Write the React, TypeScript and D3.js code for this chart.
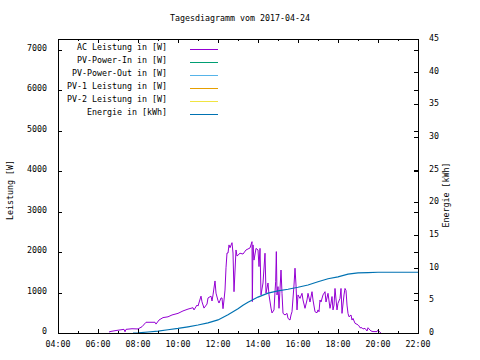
import React from 'react';
import * as d3 from 'd3';

const title = 'Tagesdiagramm vom 2017-04-24';

const xTicks = ['04:00', '06:00', '08:00', '10:00', '12:00', '14:00', '16:00', '18:00', '20:00', '22:00'];
const yTicks = [0, 1000, 2000, 3000, 4000, 5000, 6000, 7000];
const y2Ticks = [0, 5, 10, 15, 20, 25, 30, 35, 40, 45];

const legendNames = [
  'AC Leistung in [W]',
  'PV-Power-In in [W]',
  'PV-Power-Out in [W]',
  'PV-1 Leistung in [W]',
  'PV-2 Leistung in [W]',
  'Energie in [kWh]',
];
const legendColors = ['#9400d3', '#009e73', '#56b4e9', '#e69f00', '#f0e442', '#0072b2'];

// AC Leistung [W]
const acPower: [string, number][] = [
  ['06:33', 25], ['06:39', 40], ['06:57', 65], ['07:18', 90], ['07:21', 30], ['07:24', 90],
  ['07:42', 105], ['08:00', 100], ['08:12', 155], ['08:24', 265], ['08:51', 265], ['08:54', 220],
  ['09:03', 320], ['09:15', 380], ['09:30', 400], ['09:42', 445], ['10:00', 485], ['10:15', 545],
  ['10:30', 590], ['10:45', 625], ['10:48', 570], ['10:57', 690], ['11:00', 665], ['11:09', 910],
  ['11:12', 770], ['11:18', 615], ['11:27', 715], ['11:30', 865], ['11:39', 910], ['11:42', 790],
  ['11:45', 940], ['11:51', 1285], ['11:54', 985], ['12:00', 800], ['12:03', 740], ['12:09', 865],
  ['12:12', 865], ['12:15', 600], ['12:18', 815], ['12:21', 1060], ['12:24', 1610], ['12:27', 1975],
  ['12:30', 1975], ['12:33', 2175], ['12:36', 2105], ['12:42', 2230], ['12:45', 1975], ['12:48', 1020],
  ['12:54', 2050], ['12:57', 1900], ['13:06', 1970], ['13:15', 1950], ['13:24', 2050], ['13:36', 2100],
  ['13:42', 2255], ['13:43', 775], ['13:45', 2175], ['13:48', 1800], ['13:54', 2090], ['14:00', 2050],
  ['14:03', 1640], ['14:06', 2090], ['14:09', 940], ['14:15', 1235], ['14:21', 1970], ['14:24', 985],
  ['14:30', 1235], ['14:33', 940], ['14:39', 615], ['14:42', 495], ['14:48', 570], ['14:51', 1020],
  ['14:53', 1265], ['14:55', 2010], ['14:57', 940], ['15:00', 1145], ['15:03', 610], ['15:09', 1555],
  ['15:12', 980], ['15:15', 485], ['15:21', 445], ['15:27', 485], ['15:30', 360], ['15:36', 320],
  ['15:39', 445], ['15:42', 525], ['15:48', 1185], ['15:51', 1600], ['15:54', 1185], ['15:57', 570],
  ['16:00', 940], ['16:06', 855], ['16:12', 980], ['16:15', 815], ['16:21', 610], ['16:27', 815],
  ['16:30', 980], ['16:36', 765], ['16:42', 1020], ['16:45', 815], ['16:51', 525], ['16:57', 500],
  ['17:00', 570], ['17:03', 525], ['17:06', 815], ['17:09', 765], ['17:15', 940], ['17:21', 1020],
  ['17:24', 765], ['17:30', 980], ['17:36', 610], ['17:39', 735], ['17:42', 900], ['17:45', 570],
  ['17:48', 690], ['17:51', 1100], ['17:57', 570], ['18:00', 735], ['18:06', 855], ['18:09', 1100],
  ['18:12', 485], ['18:18', 940], ['18:21', 1100], ['18:24', 1050], ['18:27', 690], ['18:30', 485],
  ['18:33', 400], ['18:39', 445], ['18:42', 320], ['18:45', 360], ['18:51', 240], ['19:00', 200],
  ['19:03', 175], ['19:06', 130], ['19:12', 130], ['19:15', 100], ['19:21', 115], ['19:27', 50],
  ['19:30', 130], ['19:33', 100], ['19:39', 50], ['19:45', 35], ['19:57', 35], ['20:00', 75],
  ['20:06', 15], ['20:09', 0],
];

// these series have no visible data in the picture
const pvIn: [string, number][] = [];
const pvOut: [string, number][] = [];
const pv1: [string, number][] = [];
const pv2: [string, number][] = [];

// Energie [kWh]
const energy: [string, number][] = [
  ['07:45', 0], ['08:00', 0.02], ['08:30', 0.15], ['09:00', 0.3], ['09:30', 0.5], ['10:00', 0.7],
  ['10:30', 0.95], ['11:00', 1.22], ['11:30', 1.55], ['12:00', 2.0], ['12:30', 2.8], ['13:00', 3.7],
  ['13:15', 4.25], ['13:30', 4.7], ['14:00', 5.5], ['14:30', 6.1], ['15:00', 6.45], ['15:30', 6.7],
  ['16:00', 7.0], ['16:30', 7.35], ['17:00', 7.85], ['17:30', 8.3], ['18:00', 8.6], ['18:30', 9.0],
  ['19:00', 9.2], ['19:30', 9.25], ['20:00', 9.3], ['22:00', 9.3],
];

const W = 480;
const H = 360;
const m = { left: 58, right: 418, top: 39, bottom: 333 };
const FONT = '"DejaVu Sans Mono", monospace';
const FS = 8.3;

const toHours = (t: string) => {
  const [h, mm] = t.split(':').map(Number);
  return h + mm / 60;
};

export default function App() {
  const x = d3.scaleLinear().domain([4, 22]).range([m.left, m.right]);
  const y = d3.scaleLinear().domain([0, 7260]).range([m.bottom, m.top]);
  const y2 = d3.scaleLinear().domain([0, 45]).range([m.bottom, m.top]);

  const line = d3.line<[string, number]>().x(d => x(toHours(d[0]))).y(d => y(d[1]));
  const line2 = d3.line<[string, number]>().x(d => x(toHours(d[0]))).y(d => y2(d[1]));

  const minorHours = d3.range(5, 22, 2);

  return (
    <svg width={W} height={H} style={{ position: 'absolute', left: 0, top: 0, background: '#fff' }}
      fontFamily={FONT} fontSize={FS}>
      <text x={W / 2} y={21} textAnchor="middle">{title}</text>

      {/* series */}
      <g fill="none" strokeWidth={1}>
        <path d={line(acPower) ?? ''} stroke={legendColors[0]} />
        <path d={line(pvIn) ?? ''} stroke={legendColors[1]} />
        <path d={line(pvOut) ?? ''} stroke={legendColors[2]} />
        <path d={line(pv1) ?? ''} stroke={legendColors[3]} />
        <path d={line(pv2) ?? ''} stroke={legendColors[4]} />
        <path d={line2(energy) ?? ''} stroke={legendColors[5]} strokeWidth={1.2} />
      </g>

      {/* frame and ticks */}
      <g stroke="#000" strokeWidth={1} shapeRendering="crispEdges">
        <rect x={m.left + 0.5} y={m.top + 0.5} width={m.right - m.left} height={m.bottom - m.top} fill="none" />
        {xTicks.map(t => {
          const px = Math.round(x(toHours(t))) + 0.5;
          return (
            <g key={t}>
              <line x1={px} x2={px} y1={m.bottom} y2={m.bottom - 4} />
              <line x1={px} x2={px} y1={m.top} y2={m.top + 4} />
            </g>
          );
        })}
        {minorHours.map(h => {
          const px = Math.round(x(h)) + 0.5;
          return (
            <g key={h}>
              <line x1={px} x2={px} y1={m.bottom} y2={m.bottom - 2} />
              <line x1={px} x2={px} y1={m.top} y2={m.top + 2} />
            </g>
          );
        })}
        {yTicks.map(v => {
          const py = Math.round(y(v)) + 0.5;
          return (
            <g key={v}>
              <line x1={m.left} x2={m.left + 4} y1={py} y2={py} />
              <line x1={m.right} x2={m.right - 4} y1={py} y2={py} />
            </g>
          );
        })}
        {y2Ticks.map(v => {
          const py = Math.round(y2(v)) + 0.5;
          return <line key={v} x1={m.right} x2={m.right - 4} y1={py} y2={py} />;
        })}
      </g>

      {/* tick labels */}
      {xTicks.map(t => (
        <text key={t} x={x(toHours(t))} y={347} textAnchor="middle">{t}</text>
      ))}
      {yTicks.map(v => (
        <text key={v} x={47} y={y(v) + 1} textAnchor="end">{v}</text>
      ))}
      {y2Ticks.map(v => (
        <text key={v} x={429} y={y2(v) + 2} textAnchor="start">{v}</text>
      ))}

      <text transform="translate(13,190) rotate(-90)" textAnchor="middle">Leistung [W]</text>
      <text transform="translate(449,195) rotate(-90)" textAnchor="middle">Energie [kWh]</text>

      {/* legend */}
      {legendNames.map((name, i) => {
        const ly = 49 + i * 13;
        return (
          <g key={name}>
            <text x={167} y={ly + 1} textAnchor="end">{name}</text>
            <line x1={190} x2={218} y1={ly + 0.5} y2={ly + 0.5} stroke={legendColors[i]} strokeWidth={1} />
          </g>
        );
      })}
    </svg>
  );
}
